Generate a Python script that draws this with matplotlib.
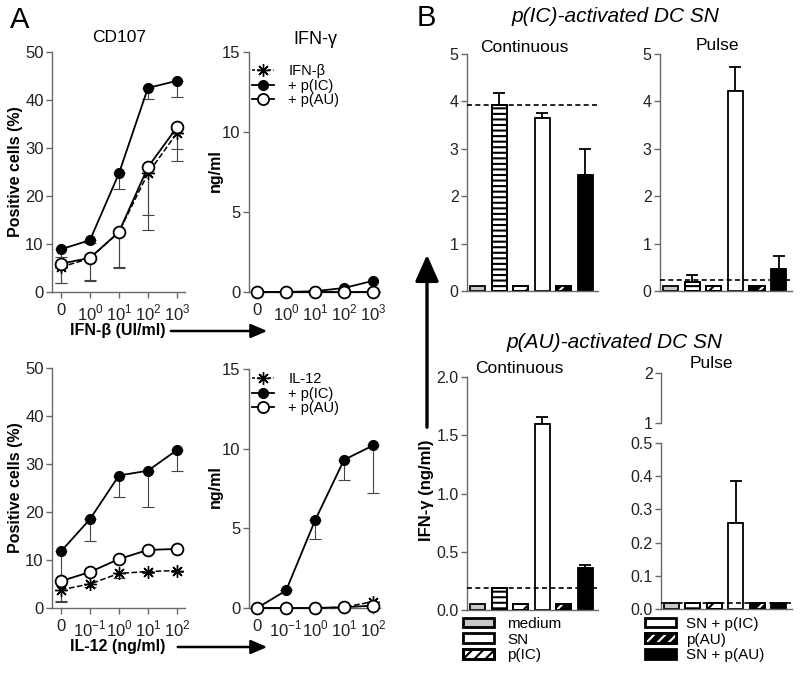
import numpy as np
import matplotlib
matplotlib.use("Agg")
import matplotlib.pyplot as plt
from matplotlib.lines import Line2D
from matplotlib.patches import Patch

plt.rcParams['font.family'] = ['Liberation Sans', 'DejaVu Sans']
plt.rcParams['mathtext.fontset'] = 'custom'
plt.rcParams['mathtext.rm'] = 'Liberation Sans'
plt.rcParams['hatch.linewidth'] = 1.5

W, H = 800, 676

# ---------------- Panel A data ----------------
ifnb_ticks = ["0", "10$^{0}$", "10$^{1}$", "10$^{2}$", "10$^{3}$"]
il12_ticks = ["0", "10$^{-1}$", "10$^{0}$", "10$^{1}$", "10$^{2}$"]

# CD107, IFN-beta titration (lower error bar ends)
cd107_ifnb_star = [5.2, 7.0, 12.5, 24.7, 33.1]
cd107_ifnb_star_lo = [1.9, 2.2, 4.9, 16.0, 27.3]
cd107_ifnb_ic = [8.9, 10.8, 24.7, 42.5, 44.0]
cd107_ifnb_ic_lo = [7.3, 10.3, 21.4, 40.2, 40.7]
cd107_ifnb_au = [5.9, 7.1, 12.5, 26.0, 34.3]
cd107_ifnb_au_lo = [1.9, 2.6, 5.3, 13.0, 29.7]

# IFN-gamma, IFN-beta titration
ifng_ifnb_star = [0, 0, 0, 0, 0]
ifng_ifnb_ic = [0, 0, 0.05, 0.25, 0.7]
ifng_ifnb_au = [0, 0, 0, 0, 0]

# CD107, IL-12 titration
cd107_il12_star = [3.8, 5.0, 7.2, 7.6, 7.8]
cd107_il12_star_lo = [1.3, 4.3, 6.2, 7.3, 7.5]
cd107_il12_ic = [11.8, 18.5, 27.6, 28.6, 32.9]
cd107_il12_ic_lo = [1.5, 14.0, 23.1, 21.0, 28.6]
cd107_il12_au = [5.6, 7.5, 10.2, 12.1, 12.3]

# IFN-gamma, IL-12 titration
ifng_il12_star = [0, 0, 0, 0.05, 0.4]
ifng_il12_ic = [0, 1.1, 5.5, 9.3, 10.2]
ifng_il12_ic_lo = [0, 1.1, 4.3, 8.05, 7.2]
ifng_il12_au = [0, 0, 0, 0.05, 0.15]

# ---------------- Panel B data ----------------
bar_labels = ["medium", "SN", "p(IC)", "SN + p(IC)", "p(AU)", "SN + p(AU)"]
ic_cont = [0.1, 3.92, 0.1, 3.65, 0.1, 2.45]
ic_cont_err = [0, 0.25, 0, 0.1, 0, 0.55]
ic_pulse = [0.1, 0.2, 0.1, 4.22, 0.1, 0.47]
ic_pulse_err = [0, 0.13, 0, 0.5, 0, 0.27]
au_cont = [0.05, 0.19, 0.05, 1.6, 0.05, 0.36]
au_cont_err = [0, 0, 0, 0.06, 0, 0.03]
au_pulse = [0.018, 0.018, 0.018, 0.258, 0.018, 0.018]
au_pulse_err = [0, 0, 0, 0.127, 0, 0]
ic_cont_ref, ic_pulse_ref = 3.92, 0.23
au_cont_ref, au_pulse_ref = 0.19, 0.018

SPINE = '#6a6a6a'
ASTER = (8, 2, 0)

fig = plt.figure(figsize=(W / 100, H / 100), dpi=100)


def rect(left, top, right, bottom):
    return [left / W, 1 - bottom / H, (right - left) / W, (bottom - top) / H]


def ftext(x, y, s, **kw):
    fig.text(x / W, 1 - y / H, s, **kw)


def style_axes(ax, xticks=True):
    for s in ['top', 'right']:
        ax.spines[s].set_visible(False)
    for s in ['left', 'bottom']:
        ax.spines[s].set_color(SPINE)
        ax.spines[s].set_linewidth(1.0)
    ax.tick_params(direction='out', length=4, width=1, color=SPINE,
                   labelsize=12, labelcolor='#222222', pad=2)
    if not xticks:
        ax.tick_params(axis='x', length=0, labelbottom=False)


def line_panel(box, ymax, ystep, ticks, star, ic, au,
               star_lo=None, ic_lo=None, au_lo=None, xlim=(-0.31, 4.28)):
    ax = fig.add_axes(rect(*box))
    x = np.arange(5)
    series = [
        (star, star_lo, dict(color='black', ls='--', lw=1.1, marker=ASTER,
                             ms=9, mew=1.0)),
        (ic, ic_lo, dict(color='black', ls='-', lw=1.3, marker='o', ms=7,
                         mfc='black')),
        (au, au_lo, dict(color='black', ls='-', lw=1.3, marker='o', ms=8.5,
                         mfc='white', mew=1.3)),
    ]
    for vals, lo, st in series:
        vals = np.array(vals, float)
        if lo is not None:
            err = vals - np.array(lo, float)
            ax.errorbar(x, vals, yerr=[err, np.zeros(5)], fmt='none',
                        ecolor='#444444', elinewidth=0.8, capsize=4,
                        capthick=0.8, zorder=2)
        ax.plot(x, vals, zorder=3, clip_on=False, **st)
    ax.set_xlim(*xlim)
    ax.set_ylim(0, ymax)
    ax.set_yticks(np.arange(0, ymax + 1, ystep))
    ax.set_xticks(x)
    ax.set_xticklabels(ticks)
    style_axes(ax)
    ax.tick_params(axis='x', pad=4)
    return ax


def add_line_legend(ax, first_label, anchor):
    handles = [
        Line2D([], [], color='black', ls=(0, (2, 1.5)), lw=1.1, marker=ASTER,
               ms=9, mew=1.0),
        Line2D([], [], color='black', ls='-', lw=1.3, marker='o', ms=7),
        Line2D([], [], color='black', ls='-', lw=1.3, marker='o', ms=8,
               mfc='white', mew=1.3),
    ]
    labels = [first_label, "+ p(IC)", "+ p(AU)"]
    fig.legend(handles, labels, loc='upper left',
               bbox_to_anchor=(anchor[0] / W, 1 - anchor[1] / H),
               frameon=False, fontsize=10.5, handlelength=1.5,
               handletextpad=1.0, labelspacing=0.05, borderpad=0,
               borderaxespad=0)


# ---------------- Panel A ----------------
axA1 = line_panel((52, 52, 185, 292), 50, 10, ifnb_ticks,
                  cd107_ifnb_star, cd107_ifnb_ic, cd107_ifnb_au,
                  cd107_ifnb_star_lo, cd107_ifnb_ic_lo, cd107_ifnb_au_lo)
axA2 = line_panel((249, 52, 380, 292), 15, 5, ifnb_ticks,
                  ifng_ifnb_star, ifng_ifnb_ic, ifng_ifnb_au,
                  xlim=(-0.28, 4.24))
axA3 = line_panel((52, 368, 185, 608), 50, 10, il12_ticks,
                  cd107_il12_star, cd107_il12_ic, cd107_il12_au,
                  cd107_il12_star_lo, cd107_il12_ic_lo)
axA4 = line_panel((249, 369, 380, 608), 15, 5, il12_ticks,
                  ifng_il12_star, ifng_il12_ic, ifng_il12_au,
                  None, ifng_il12_ic_lo, xlim=(-0.28, 4.24))

add_line_legend(axA2, "IFN-β", (252, 64))
add_line_legend(axA4, "IL-12", (252, 372))

ftext(119, 38, "CD107", fontsize=12.5, ha='center', va='center')
ftext(315, 40, "IFN-γ", fontsize=13, ha='center', va='center')
for y in (172, 488):
    ftext(16, y, "Positive cells (%)", fontsize=11.5, fontweight='bold',
          rotation=90, ha='center', va='center')
for y in (171, 487):
    ftext(215, y, "ng/ml", fontsize=11.5, fontweight='bold',
          rotation=90, ha='center', va='center')

ftext(118, 331, "IFN-β (UI/ml)", fontsize=11.5, fontweight='bold',
      ha='center', va='center')
ftext(118, 647, "IL-12 (ng/ml)", fontsize=11.5, fontweight='bold',
      ha='center', va='center')
for y, x0 in ((331, 168), (647, 175)):
    fig.add_artist(matplotlib.patches.FancyArrowPatch(
        (x0 / W, 1 - y / H), (270 / W, 1 - y / H), transform=fig.transFigure,
        arrowstyle='-|>,head_length=0.7,head_width=0.3', mutation_scale=14,
        lw=1.8, color='black'))

ftext(20, 20, "A", fontsize=21, ha='center', va='center')
ftext(426, 18, "B", fontsize=21, ha='center', va='center')

# ---------------- Panel B ----------------
bar_styles = [
    ('#c8c8c8', None, None),
    ('white', '---', 'black'),
    ('white', '//', 'black'),
    ('white', None, None),
    ('black', '//', 'white'),
    ('black', None, None),
]


def draw_bars(ax, vals, errs, ref, xlim):
    x = np.arange(len(vals))
    for i, (fc, hatch, hc) in enumerate(bar_styles):
        ax.bar(x[i], vals[i], width=0.7, color=fc, edgecolor='black',
               lw=1.3, zorder=2)
        if hatch:
            ax.bar(x[i], vals[i], width=0.7, facecolor='none', edgecolor=hc,
                   hatch=hatch, lw=0, zorder=3)
            ax.bar(x[i], vals[i], width=0.7, facecolor='none',
                   edgecolor='black', lw=1.3, zorder=4)
    errs = np.array(errs, float)
    m = errs > 0
    ax.errorbar(x[m], np.array(vals)[m], yerr=[np.zeros(m.sum()), errs[m]],
                fmt='none', ecolor='black', elinewidth=1.3, capsize=4,
                capthick=1.3, zorder=1)
    ax.axhline(ref, color='black', ls=(0, (3, 2)), lw=1.2, zorder=5)
    ax.set_xlim(*xlim)
    style_axes(ax, xticks=False)


axB1 = fig.add_axes(rect(467, 54, 598, 291))
draw_bars(axB1, ic_cont, ic_cont_err, ic_cont_ref, (-0.49, 5.58))
axB1.set_ylim(0, 5)
axB1.set_yticks(range(0, 6))

axB2 = fig.add_axes(rect(660, 54, 792, 291))
draw_bars(axB2, ic_pulse, ic_pulse_err, ic_pulse_ref, (-0.49, 5.62))
axB2.set_ylim(0, 5)
axB2.set_yticks(range(0, 6))

axB3 = fig.add_axes(rect(467, 377, 598, 610))
draw_bars(axB3, au_cont, au_cont_err, au_cont_ref, (-0.49, 5.58))
axB3.set_ylim(0, 2.0)
axB3.set_yticks(np.arange(0, 2.01, 0.5))
axB3.set_yticklabels([f"{v:.1f}" for v in np.arange(0, 2.01, 0.5)])

axB4 = fig.add_axes(rect(661, 443, 792, 609))
draw_bars(axB4, au_pulse, au_pulse_err, au_pulse_ref, (-0.49, 5.62))
axB4.set_ylim(0, 0.5)
axB4.set_yticks(np.arange(0, 0.51, 0.1))
axB4.set_yticklabels([f"{v:.1f}" for v in np.arange(0, 0.51, 0.1)])

axB4u = fig.add_axes(rect(661, 373, 792, 423))
axB4u.set_ylim(1, 2)
axB4u.set_yticks([1, 2])
style_axes(axB4u, xticks=False)
axB4u.spines['bottom'].set_visible(False)

for ax in (axB1, axB2, axB3, axB4, axB4u):
    ax.tick_params(labelsize=11.5)

ftext(615, 17, "p(IC)-activated DC SN", fontsize=15, style='italic',
      ha='center', va='center')
ftext(615, 342, "p(AU)-activated DC SN", fontsize=15, style='italic',
      ha='center', va='center')
ftext(524, 47, "Continuous", fontsize=12.5, ha='center', va='center')
ftext(717, 46, "Pulse", fontsize=12.5, ha='center', va='center')
ftext(519, 369, "Continuous", fontsize=12.5, ha='center', va='center')
ftext(711, 364, "Pulse", fontsize=12.5, ha='center', va='center')

ftext(427, 490, "IFN-γ (ng/ml)", fontsize=12, fontweight='bold',
      rotation=90, ha='center', va='center')
fig.add_artist(matplotlib.patches.FancyArrowPatch(
    (427 / W, 1 - 430 / H), (427 / W, 1 - 252 / H), transform=fig.transFigure,
    arrowstyle='-|>,head_length=0.9,head_width=0.4', mutation_scale=18,
    lw=2.4, color='black'))

# legends for the bars
def bar_handle(i):
    fc, hatch, hc = bar_styles[i]
    base = Patch(facecolor=fc, edgecolor='black', lw=2)
    if hatch == '//':
        return (base, Patch(facecolor='none', edgecolor=hc, hatch='///', lw=0),
                Patch(facecolor='none', edgecolor='black', lw=2))
    return base


for idx, anchor, pad in (([0, 1, 2], (463, 617), 0.9),
                         ([3, 4, 5], (645, 617), 0.7)):
    fig.legend([bar_handle(i) for i in idx], [bar_labels[i] for i in idx],
               loc='upper left',
               bbox_to_anchor=(anchor[0] / W, 1 - anchor[1] / H),
               frameon=False, fontsize=11, handlelength=2.0,
               handleheight=0.6, handletextpad=pad, labelspacing=0.1,
               borderpad=0, borderaxespad=0)

fig.savefig("out.png", dpi=100, facecolor="white")
